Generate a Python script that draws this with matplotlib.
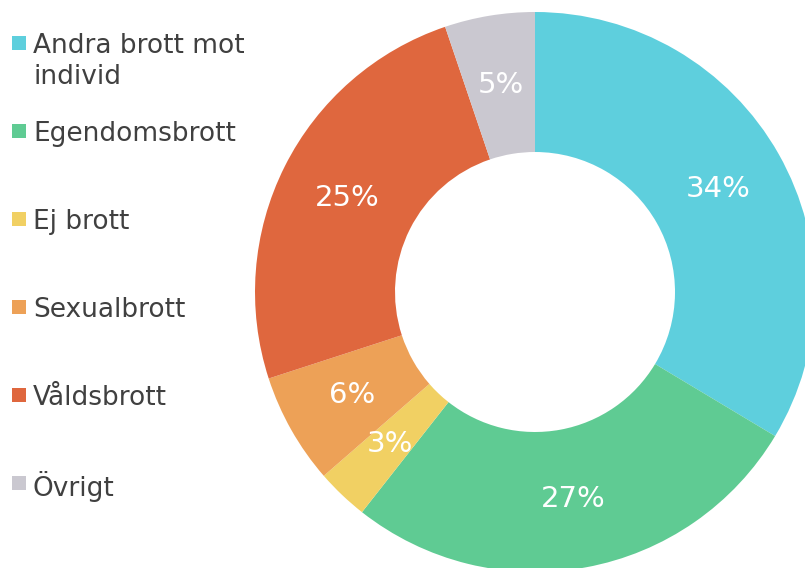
import matplotlib.pyplot as plt
from matplotlib.patches import Rectangle

labels = ['Andra brott mot\nindivid', 'Egendomsbrott', 'Ej brott',
          'Sexualbrott', 'Våldsbrott', 'Övrigt']
values = [33.6, 27.0, 3.0, 6.4, 24.8, 5.2]
colors = ['#5ECFDD', '#5FCB93', '#F1D063', '#EDA157', '#DF673E', '#CAC8D0']

W, H = 805, 568
fig = plt.figure(figsize=(W / 100, H / 100), dpi=100)

# pie axes: centre (535, 292) px, radius 280 px
cx, cy, r = 535, 292, 280
ax = fig.add_axes([(cx - r) / W, (H - cy - r) / H, 2 * r / W, 2 * r / H])
wedges, texts, autotexts = ax.pie(
    values, colors=colors, startangle=90, counterclock=False,
    radius=1, autopct='%.0f%%', pctdistance=0.75,
    wedgeprops=dict(width=0.5, linewidth=0),
    textprops=dict(color='white', fontsize=21))
ax.set_xlim(-1, 1)
ax.set_ylim(-1, 1)
ax.set_aspect('equal')
ax.axis('off')

# legend drawn by hand on the left
txt_color = '#404040'
y0 = 43
step = 88
line_gap = 31
for i, (lab, col) in enumerate(zip(labels, colors)):
    y = y0 + i * step
    fig.patches.append(Rectangle((12 / W, 1 - (y + 7) / H), 14 / W, 14 / H,
                                 transform=fig.transFigure, facecolor=col,
                                 edgecolor='none'))
    for j, line in enumerate(lab.split('\n')):
        fig.text(33 / W, 1 - (y + j * line_gap) / H, line, fontsize=19,
                 color=txt_color, va='center_baseline', ha='left')

fig.savefig('out.png', dpi=100)
